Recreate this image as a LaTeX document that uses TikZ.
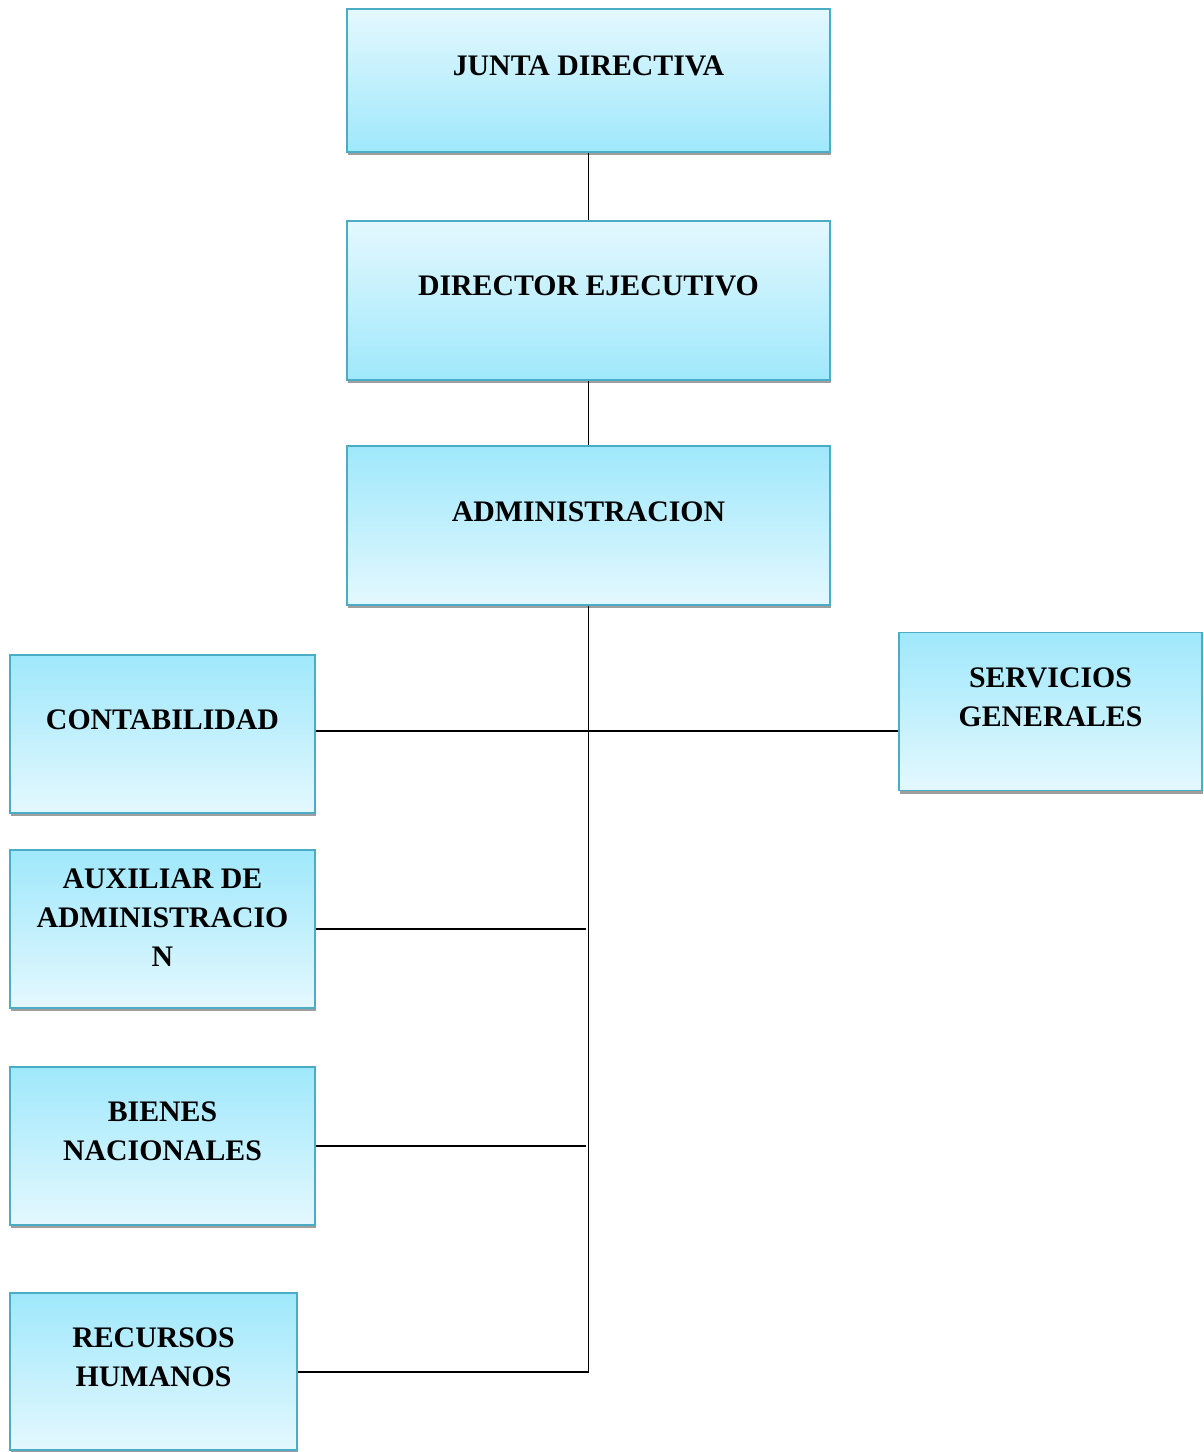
\documentclass[tikz,border=0pt]{standalone}
\usepackage{fontspec}
\setmainfont{Liberation Serif}
\usetikzlibrary{positioning, shadows}

\definecolor{boxlight}{HTML}{E4F8FE}
\definecolor{boxdark}{HTML}{9FE8FC}
\definecolor{boxline}{HTML}{4BACC6}

\begin{document}
\begin{tikzpicture}[x=0.025cm,y=-0.025cm,
    unit/.style={rectangle, draw=boxline, line width=1.2pt,
      drop shadow={shadow xshift=0.6pt, shadow yshift=-2.4pt, fill=black!38, opacity=1}},
    down/.style={unit, top color=boxlight, bottom color=boxdark},
    up/.style={unit, top color=boxdark, bottom color=boxlight},
    wide/.style={minimum width=12.075cm, minimum height=3.975cm},
    side/.style={minimum width=7.625cm, minimum height=3.95cm},
    title/.style={align=center, font=\fontsize{21.2}{27.7}\selectfont\bfseries, inner sep=0pt},
    link/.style={draw=black, line width=1.4pt}]
  \useasboundingbox (0,0) rectangle (1203,1452);

  % boxes
  \node[down, wide, minimum height=3.575cm] (jd) at (588.5,80.5) {};
  \node[down, wide] (de) at (588.5,300.5) {};
  \node[up, wide] (adm) at (588.5,525.5) {};
  \node[up, side] (cont) at (162.5,734) {};
  \node[up, side, minimum width=7.575cm] (serv) at (1050.5,711.5) {};
  \node[up, side] (aux) at (162.5,929) {};
  \node[up, side] (bien) at (162.5,1146) {};
  \node[up, side, minimum width=7.175cm, minimum height=3.925cm] (rrhh) at (153.5,1371.5) {};

  % titles
  \node[title] (jdT) at ([yshift=-58*0.025cm]jd.north) {JUNTA DIRECTIVA};
  \node[title] (deT) at ([yshift=-66*0.025cm]de.north) {DIRECTOR EJECUTIVO};
  \node[title] (admT) at ([yshift=-67*0.025cm]adm.north) {ADMINISTRACION};
  \node[title] (contT) at ([yshift=-66*0.025cm]cont.north) {CONTABILIDAD};
  \node[title] (servT) at ([yshift=-66*0.025cm]serv.north) {SERVICIOS\\GENERALES};
  \node[title] (auxT) at ([yshift=-68.5*0.025cm]aux.north) {AUXILIAR DE\\ADMINISTRACIO\\N};
  \node[title] (bienT) at ([yshift=-65*0.025cm]bien.north) {BIENES\\NACIONALES};
  \node[title] (rrhhT) at ([yshift=-65*0.025cm]rrhh.north) {RECURSOS\\HUMANOS};

  % connectors
  \coordinate (trunk) at (rrhh.east -| adm.south);
  \path[link] (jd.south) -- (de.north)
    (de.south) -- (adm.north)
    (adm.south) -- (trunk);
  \path[link] (cont.east |- 0,731) -- (serv.west |- 0,731);
  \path[link] (aux.east) -- ([xshift=-3*0.025cm]aux.east -| adm.south)
    (bien.east) -- ([xshift=-3*0.025cm]bien.east -| adm.south)
    (rrhh.east) -- (trunk);
\end{tikzpicture}
\end{document}
